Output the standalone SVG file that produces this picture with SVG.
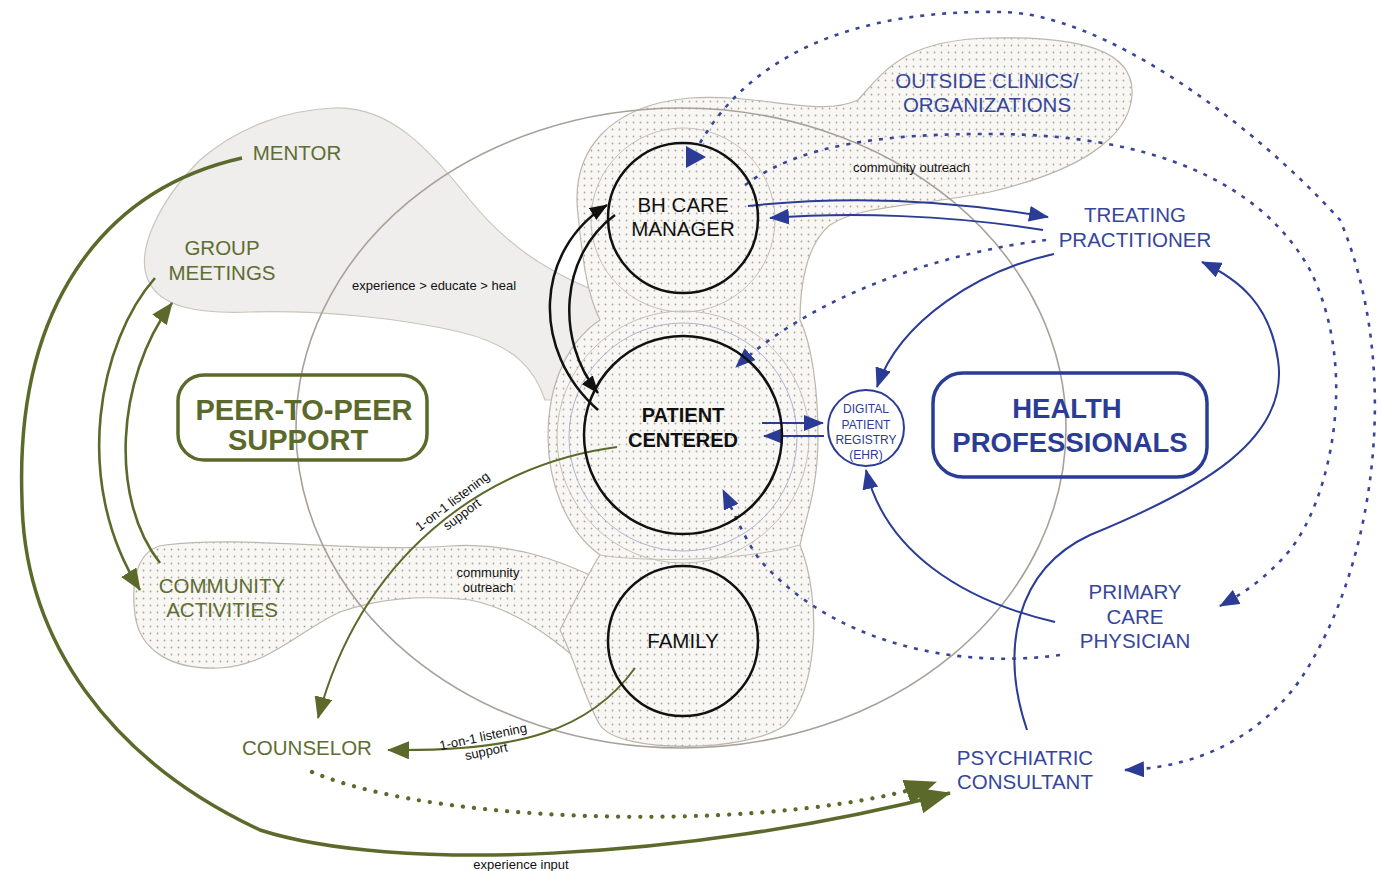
<svg xmlns="http://www.w3.org/2000/svg" width="1382" height="871" viewBox="0 0 1382 871">
<style>
.bg{fill:#ffffff}
.peer-blob{fill:#efeeec;stroke:#cbc4bb;stroke-width:1.2}
.dot-blob{fill:url(#dots);stroke:#bdb6ad;stroke-width:1.2}
.faint{fill:none;stroke:#c6c0b6;stroke-width:1}
.faint-b{fill:none;stroke:#b0b3d0;stroke-width:1}
.big-ellipse{fill:none;stroke:#a8a19a;stroke-width:1.6}
.g-line{fill:none;stroke:#5b6a2b}
.g-dots{fill:none;stroke:#5b6a2b;stroke-width:4.2;stroke-linecap:round;stroke-dasharray:0.1 11}
.k-line{fill:none;stroke:#111;stroke-width:2.5}
.b-line{fill:none;stroke:#2b3c96;stroke-width:2}
.b-dash{fill:none;stroke:#3a4597;stroke-width:2.6;stroke-dasharray:4 7}
.node-circle{fill:none;stroke:#111;stroke-width:2.5}
.lbl-g{font-family:"Liberation Sans",Arial,sans-serif;font-size:20.5px;fill:#5e6d31;text-anchor:middle}
.lbl-b{font-family:"Liberation Sans",Arial,sans-serif;font-size:20.5px;fill:#36469b;text-anchor:middle}
.lbl-k{font-family:"Liberation Sans",Arial,sans-serif;font-size:20.5px;fill:#111;text-anchor:middle}
.small{font-family:"Liberation Sans",Arial,sans-serif;font-size:13px;fill:#111}
.reg{font-family:"Liberation Sans",Arial,sans-serif;font-size:12px;fill:#2b3c96;text-anchor:middle}
.head{font-family:"Liberation Sans",Arial,sans-serif;font-weight:bold;text-anchor:middle}
</style>
<defs>
<pattern id="dots" width="7" height="7" patternUnits="userSpaceOnUse">
<rect width="7" height="7" fill="#f8f7f4"/>
<circle cx="3.5" cy="3.5" r="0.9" fill="#aaa59e"/>
</pattern>
<marker id="ag-lg" viewBox="0 0 32 26" refX="31" refY="13" markerUnits="userSpaceOnUse" markerWidth="32" markerHeight="26" orient="auto"><path d="M0,0 L32,13 L0,26 Z" fill="#5b6a2b"/></marker>
<marker id="ag" viewBox="0 0 22 18" refX="21" refY="9" markerUnits="userSpaceOnUse" markerWidth="22" markerHeight="18" orient="auto"><path d="M0,0 L22,9 L0,18 Z" fill="#5b6a2b"/></marker>
<marker id="ab" viewBox="0 0 20 16" refX="19" refY="8" markerUnits="userSpaceOnUse" markerWidth="20" markerHeight="16" orient="auto"><path d="M0,0 L20,8 L0,16 Z" fill="#2b3c96"/></marker>
<marker id="ak" viewBox="0 0 18 14" refX="17" refY="7" markerUnits="userSpaceOnUse" markerWidth="18" markerHeight="14" orient="auto"><path d="M0,0 L18,7 L0,14 Z" fill="#111"/></marker>
</defs>
<rect class="bg" x="0" y="0" width="1382" height="871"/>

<g id="regions">
<path class="peer-blob" d="M 333,108 C 390,105 430,150 470,200 C 510,250 560,280 620,300 L 620,400 L 545,400 C 535,370 515,345 460,332 C 400,318 320,310 250,312 C 200,314 160,308 148,280 C 135,250 160,200 200,160 C 240,125 290,110 333,108 Z"/>
<path class="dot-blob" d="M 165,545 C 250,535 350,553 450,546 C 510,542 560,560 600,580 L 620,700 C 580,660 530,612 470,600 C 420,595 380,598 340,612 C 300,630 270,665 220,668 C 170,670 140,650 135,615 C 130,575 140,548 165,545 Z"/>
<path class="dot-blob" d="M 578,215 C 570,150 610,105 690,98 C 760,93 820,118 858,100 C 885,70 905,40 990,38 C 1080,36 1135,50 1132,95 C 1129,140 1075,172 990,192 C 920,206 860,205 830,225 C 805,245 800,290 800,320 C 812,345 818,390 818,437 C 818,490 805,520 800,545 C 822,600 818,690 785,725 C 750,752 620,755 600,725 C 585,700 575,660 560,630 C 575,600 590,570 600,555 C 565,530 548,480 548,437 C 548,380 570,340 600,320 C 585,290 582,250 578,215 Z"/>
<circle class="faint" cx="683" cy="437" r="126"/>
<circle class="faint-b" cx="683" cy="437" r="114"/>
<circle class="faint" cx="683" cy="220" r="92"/>
<path class="faint" d="M 600,555 C 640,562 740,562 800,545"/>
<ellipse class="big-ellipse" cx="681" cy="428" rx="385" ry="320"/>
</g>

<g id="connectors">
<path class="g-line" stroke-width="3.5" d="M 242,158 C 100,190 15,310 22,500 C 24,640 110,760 260,830 C 390,872 680,862 950,793" marker-end="url(#ag-lg)"/>
<path class="g-line" stroke-width="2.6" d="M 155,278 C 100,340 70,480 140,590" marker-end="url(#ag)"/>
<path class="g-line" stroke-width="2.6" d="M 160,563 C 110,500 115,380 172,303" marker-end="url(#ag)"/>
<path class="g-line" stroke-width="2" d="M 617,447 C 480,465 360,560 318,718" marker-end="url(#ag)"/>
<path class="g-line" stroke-width="2" d="M 635,668 C 590,730 520,752 388,750" marker-end="url(#ag)"/>
<path class="g-dots" d="M 312,772 C 450,830 800,830 936,782" marker-end="url(#ag-lg)"/>
<path class="k-line" d="M 598,410 C 530,350 535,250 607,205" marker-end="url(#ak)"/>
<path class="k-line" d="M 615,215 C 560,255 555,340 598,393" marker-end="url(#ak)"/>
<path class="b-line" d="M 748,206 C 850,195 950,200 1048,217" marker-end="url(#ab)"/>
<path class="b-line" d="M 1043,230 C 950,215 850,212 770,218" marker-end="url(#ab)"/>
<path class="b-line" d="M 1054,254 C 980,270 900,320 877,387" marker-end="url(#ab)"/>
<path class="b-line" d="M 762,423 L 823,423" marker-end="url(#ab)"/>
<path class="b-line" d="M 824,436 L 764,436" marker-end="url(#ab)"/>
<path class="b-line" d="M 1055,622 C 960,600 885,550 866,470" marker-end="url(#ab)"/>
<path class="b-line" d="M 1027,730 C 1000,650 1015,570 1090,535 C 1200,490 1290,440 1278,360 C 1270,305 1240,280 1202,262" marker-end="url(#ab)"/>
<path class="b-dash" d="M 700,143 C 760,40 880,10 1000,12 C 1100,12 1250,120 1340,220 C 1400,360 1380,560 1300,680 C 1250,750 1180,768 1125,770" marker-end="url(#ab)"/>
<path d="M 686,146 L 706,157 L 686,168 Z" fill="#2b3c96"/>
<path class="b-dash" d="M 745,185 C 800,145 880,133 1000,134 C 1150,136 1260,180 1310,270 C 1360,370 1330,500 1290,550 C 1265,580 1240,595 1220,606" marker-end="url(#ab)"/>
<path class="b-dash" d="M 1046,240 C 950,252 820,290 736,367" marker-end="url(#ab)"/>
<path class="b-dash" d="M 1060,655 C 950,670 830,640 760,560 C 745,540 735,515 723,490" marker-end="url(#ab)"/>
<text class="small" x="352" y="290">experience &gt; educate &gt; heal</text>
<text class="small" x="853" y="172">community outreach</text>
<text class="small" text-anchor="middle" x="488" y="577">community</text>
<text class="small" text-anchor="middle" x="488" y="592">outreach</text>
<text class="small" text-anchor="middle" x="521" y="869">experience input</text>
<g transform="translate(455,505) rotate(-37)">
<text class="small" text-anchor="middle" x="0" y="0">1-on-1 listening</text>
<text class="small" text-anchor="middle" x="0" y="16">support</text>
</g>
<g transform="translate(484,741) rotate(-12)">
<text class="small" text-anchor="middle" x="0" y="0">1-on-1 listening</text>
<text class="small" text-anchor="middle" x="0" y="15">support</text>
</g>
</g>

<g id="bh-care-manager">
<circle class="node-circle" cx="683" cy="218" r="75"/>
<text class="lbl-k" x="683" y="212">BH CARE</text>
<text class="lbl-k" x="683" y="236">MANAGER</text>
</g>
<g id="patient-centered">
<circle class="node-circle" cx="683" cy="435" r="99" stroke-width="4"/>
<text class="head" font-size="20" fill="#111" x="683" y="422">PATIENT</text>
<text class="head" font-size="20" fill="#111" x="683" y="447">CENTERED</text>
</g>
<g id="family">
<circle class="node-circle" cx="683" cy="641" r="75"/>
<text class="lbl-k" font-size="20" x="683" y="648">FAMILY</text>
</g>
<g id="digital-registry">
<circle cx="866" cy="428" r="38" fill="#ffffff" stroke="#2b3c96" stroke-width="2"/>
<text class="reg" x="866" y="413">DIGITAL</text>
<text class="reg" x="866" y="428.5">PATIENT</text>
<text class="reg" x="866" y="444">REGISTRY</text>
<text class="reg" x="866" y="459">(EHR)</text>
</g>
<g id="peer-support">
<rect x="178" y="375" width="249" height="85" rx="26" fill="none" stroke="#5b6a2b" stroke-width="3.5"/>
<text class="head" font-size="29" fill="#5b6a2b" x="304" y="420">PEER-TO-PEER</text>
<text class="head" font-size="29" fill="#5b6a2b" x="298" y="450">SUPPORT</text>
</g>
<g id="health-professionals">
<rect x="933" y="373" width="274" height="104" rx="30" fill="none" stroke="#2b3c96" stroke-width="3.5"/>
<text class="head" font-size="27.5" fill="#2b3c96" x="1067" y="418">HEALTH</text>
<text class="head" font-size="27.5" fill="#2b3c96" x="1070" y="452">PROFESSIONALS</text>
</g>
<g id="mentor"><text class="lbl-g" x="297" y="160">MENTOR</text></g>
<g id="group-meetings">
<text class="lbl-g" x="222" y="255">GROUP</text>
<text class="lbl-g" x="222" y="280">MEETINGS</text>
</g>
<g id="community-activities">
<text class="lbl-g" x="222" y="593">COMMUNITY</text>
<text class="lbl-g" x="222" y="617">ACTIVITIES</text>
</g>
<g id="counselor"><text class="lbl-g" x="307" y="755">COUNSELOR</text></g>
<g id="outside-clinics">
<text class="lbl-b" x="987" y="88">OUTSIDE CLINICS/</text>
<text class="lbl-b" x="987" y="112">ORGANIZATIONS</text>
</g>
<g id="treating-practitioner">
<text class="lbl-b" x="1135" y="222">TREATING</text>
<text class="lbl-b" x="1135" y="247">PRACTITIONER</text>
</g>
<g id="primary-care-physician">
<text class="lbl-b" x="1135" y="599">PRIMARY</text>
<text class="lbl-b" x="1135" y="624">CARE</text>
<text class="lbl-b" x="1135" y="648">PHYSICIAN</text>
</g>
<g id="psychiatric-consultant">
<text class="lbl-b" x="1025" y="765">PSYCHIATRIC</text>
<text class="lbl-b" x="1025" y="789">CONSULTANT</text>
</g>
</svg>
